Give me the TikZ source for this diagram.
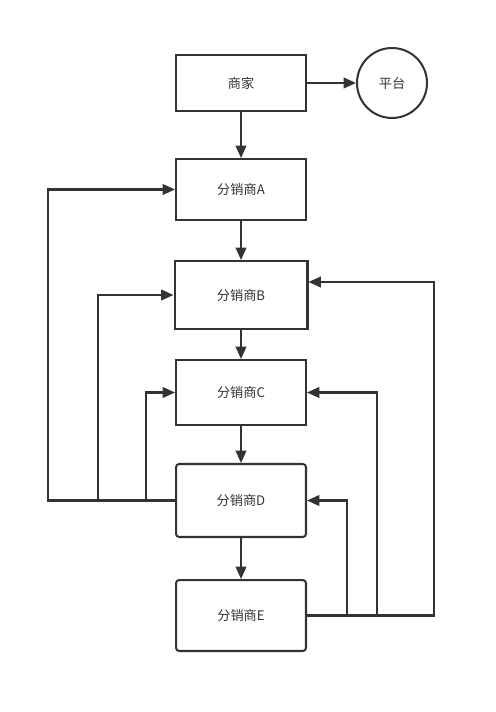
\documentclass[tikz,border=0pt]{standalone}
\usepackage{fontspec}
\newfontfamily\cjk{Noto Sans CJK SC}
\usetikzlibrary{arrows.meta}
\definecolor{ink}{HTML}{333333}
\tikzset{
  box/.style={draw=ink, line width=1.15pt, minimum width=2.6cm, text=ink,
    font=\cjk\fontsize{7.5}{9}\selectfont},
  roundbox/.style={box, rounded corners=1.8pt},
  link/.style={draw=ink, line width=1.15pt, -{Triangle[length=7pt,width=6pt]}}
}
\begin{document}
\begin{tikzpicture}[x=0.02cm,y=-0.02cm]
  \useasboundingbox (0,0) rectangle (496,712);
  % boxes
  \node[box, minimum height=1.12cm] (shang) at (241,83) {商家};
  \node[box, circle, minimum width=1.4cm, minimum height=1.4cm] (ping) at (392,83) {平台};
  \node[box, minimum height=1.22cm] (A) at (241,189.5) {分销商A};
  \node[box, minimum width=2.66cm, minimum height=1.36cm] (B) at (241,295) {分销商B};
  \node[box, minimum height=1.3cm] (C) at (241,392.5) {分销商C};
  \node[roundbox, minimum height=1.46cm] (D) at (241,500.5) {分销商D};
  \node[roundbox, minimum height=1.42cm] (E) at (241,615.5) {分销商E};
  % main chain
  \draw[link] (shang) -- (ping);
  \draw[link] (shang) -- (A);
  \draw[link] (A) -- (B);
  \draw[link] (B) -- (C);
  \draw[link] (C) -- (D);
  \draw[link] (D) -- (E);
  % back links from D
  \draw[link] (D.west) -- (48,500.5) |- (A.west);
  \draw[link] (D.west) -- (98,500.5) |- (B.west);
  \draw[link] (D.west) -- (146,500.5) |- (C.west);
  % back links from E
  \draw[link] (E.east) -- (434,615.5) |- (B.east |- 0,282);
  \draw[link] (E.east) -- (377,615.5) |- (C.east);
  \draw[link] (E.east) -- (347,615.5) |- (D.east);
\end{tikzpicture}
\end{document}
